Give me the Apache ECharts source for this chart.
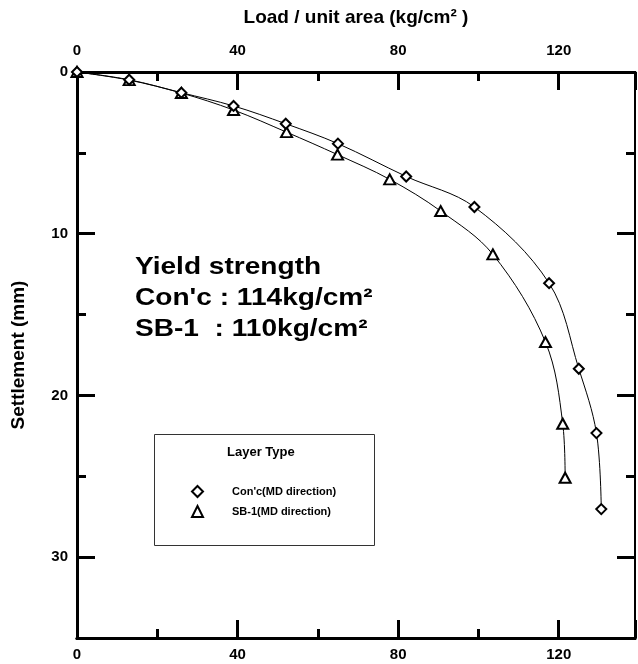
<!DOCTYPE html>
<html>
<head>
<meta charset="utf-8">
<style>html,body{margin:0;padding:0;background:#fff}#c{width:638px;height:664px}</style>
<script src="https://cdn.jsdelivr.net/npm/echarts@6/dist/echarts.min.js"></script>
</head>
<body>
<div id="c"></div>
<script>
// ---- data ----
const loadConc   = [0, 13, 26, 39, 52, 65, 82, 99, 117.6, 125, 129.4, 130.6];
const settleConc = [0, 0.48, 1.28, 2.1, 3.2, 4.43, 6.46, 8.35, 13.06, 18.35, 22.33, 27.03];
const loadSB     = [0, 13, 26, 39, 52.2, 64.9, 77.9, 90.6, 103.6, 116.7, 121, 121.6];
const settleSB   = [0, 0.5, 1.3, 2.35, 3.72, 5.11, 6.64, 8.6, 11.28, 16.7, 21.75, 25.09];
const xTicks = [0, 40, 80, 120];
const yTicks = [0, 10, 20, 30];
const seriesNames = ["Con'c(MD direction)", "SB-1(MD direction)"];
const legendTitle = 'Layer Type';
const xName = 'Load / unit area (kg/cm\u00B2 )';
const yName = 'Settlement (mm)';
const noteLines = ['Yield strength', "Con'c : 114kg/cm\u00B2", 'SB-1  : 110kg/cm\u00B2'];

const FONT = 'Liberation Sans, Arial, sans-serif';
const X_MAX = 139, Y_MAX = 35;

function xAxisDef(pos, interval, tickLen, showLabel, lineW) {
  return {
    type: 'value', position: pos, min: 0, max: X_MAX, interval: interval,
    axisLine: { show: true, onZero: false, lineStyle: { color: '#000', width: lineW } },
    axisTick: { show: true, inside: true, length: tickLen, lineStyle: { color: '#000', width: 3 } },
    axisLabel: { show: showLabel, margin: pos === 'top' ? 14 : 9, color: '#000', fontFamily: FONT, fontWeight: 'bold', fontSize: 15,
      formatter: v => xTicks.indexOf(v) >= 0 ? String(v) : '' },
    splitLine: { show: false }
  };
}
function yAxisDef(pos, interval, tickLen, showLabel, lineW) {
  return {
    type: 'value', position: pos, inverse: true, min: 0, max: Y_MAX, interval: interval,
    axisLine: { show: true, onZero: false, lineStyle: { color: '#000', width: lineW } },
    axisTick: { show: true, inside: true, length: tickLen, lineStyle: { color: '#000', width: 3 } },
    axisLabel: { show: showLabel, margin: 9, color: '#000', fontFamily: FONT, fontWeight: 'bold', fontSize: 15,
      formatter: v => yTicks.indexOf(v) >= 0 ? String(v) : '' },
    splitLine: { show: false }
  };
}

const xAxes = [
  xAxisDef('bottom', 40, 18, true, 3),
  xAxisDef('bottom', 20, 9, false, 3),
  xAxisDef('top', 40, 18, true, 3),
  xAxisDef('top', 20, 9, false, 3)
];
xAxes[2].name = xName;
xAxes[2].nameLocation = 'middle';
xAxes[2].nameGap = 45;
xAxes[2].nameTextStyle = { color: '#000', fontFamily: FONT, fontWeight: 'bold', fontSize: 19 };

const yAxes = [
  yAxisDef('left', 10, 18, true, 3),
  yAxisDef('left', 5, 9, false, 3),
  yAxisDef('right', 10, 18, false, 2),
  yAxisDef('right', 5, 9, false, 2)
];
yAxes[0].name = yName;
yAxes[0].nameLocation = 'middle';
yAxes[0].nameGap = 49;
yAxes[0].nameTextStyle = { color: '#000', fontFamily: FONT, fontWeight: 'bold', fontSize: 19 };

function pairs(xs, ys) { return xs.map((x, i) => [x, ys[i]]); }

const chart = echarts.init(document.getElementById('c'), null, { renderer: 'canvas' });
chart.setOption({
  backgroundColor: '#fff',
  animation: false,
  grid: { left: 77, right: 2, top: 72, bottom: 26, containLabel: false },
  xAxis: xAxes,
  yAxis: yAxes,
  legend: {
    orient: 'vertical', left: 186, top: 480, itemGap: 7,
    itemWidth: 11, itemHeight: 11,
    textStyle: { color: '#000', fontFamily: FONT, fontWeight: 'bold', fontSize: 11, padding: [0, 0, 0, 24] },
    data: [{ name: seriesNames[0], icon: 'diamond' }, { name: seriesNames[1], icon: 'triangle' }]
  },
  graphic: [
    { type: 'rect', left: 152, top: 432, shape: { width: 220, height: 111 },
      style: { fill: 'none', stroke: '#333', lineWidth: 1 } },
    { type: 'text', left: 227, top: 446,
      style: { text: legendTitle, fill: '#000', fontFamily: FONT, fontWeight: 'bold', fontSize: 13 } },
    { type: 'text', x: 135, y: 252, scaleX: 1.17,
      style: { text: noteLines.join('\n'), fill: '#000', fontFamily: FONT, fontWeight: 'bold', fontSize: 24, lineHeight: 31 } }
  ],
  series: [
    {
      name: seriesNames[1], type: 'line', xAxisIndex: 0, yAxisIndex: 0,
      data: pairs(loadSB, settleSB), smooth: 0.35,
      symbol: 'triangle', symbolSize: [11, 10],
      lineStyle: { color: '#000', width: 1 },
      itemStyle: { color: '#fff', borderColor: '#000', borderWidth: 2 }
    },
    {
      name: seriesNames[0], type: 'line', xAxisIndex: 0, yAxisIndex: 0,
      data: pairs(loadConc, settleConc), smooth: 0.35,
      symbol: 'diamond', symbolSize: 10,
      lineStyle: { color: '#000', width: 1 },
      itemStyle: { color: '#fff', borderColor: '#000', borderWidth: 2 }
    }
  ]
});
</script>
</body>
</html>
